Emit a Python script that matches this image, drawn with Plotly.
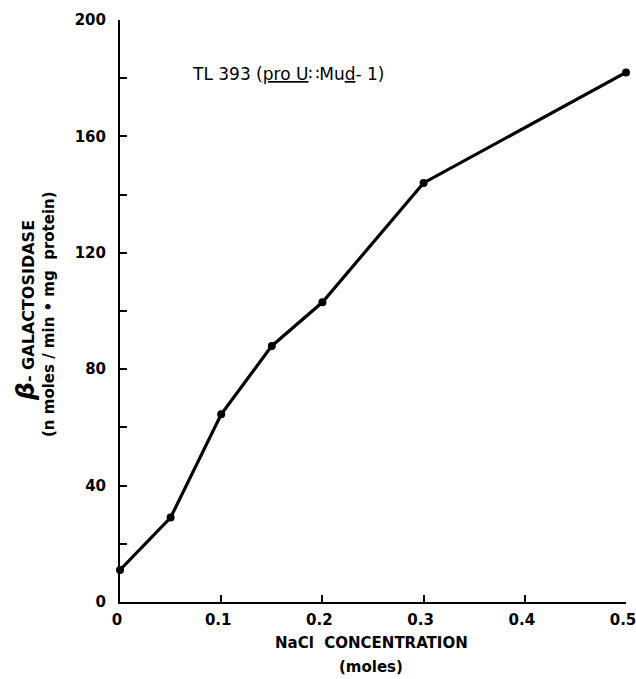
import plotly.graph_objects as go

# Data
nacl_moles = [0, 0.05, 0.1, 0.15, 0.2, 0.3, 0.5]
beta_gal = [11, 29, 64.5, 88, 103, 144, 182]

x_tick_vals = [0, 0.1, 0.2, 0.3, 0.4, 0.5]
x_tick_text = ["0", "0.1", "0.2", "0.3", "0.4", "0.5"]
y_tick_vals = [0, 40, 80, 120, 160, 200]
y_tick_text = ["0", "40", "80", "120", "160", "200"]
y_minor_vals = [20, 60, 100, 140, 180]

FONT = "DejaVu Sans"

# figure geometry (page body margin removed by post_script)
OFF = 0
W, H = 636, 679
ML, MR, MT, MB = 120, 10, 20, 77
PW, PH = W - ML - MR, H - MT - MB

fig = go.Figure()
fig.add_trace(go.Scatter(
    x=nacl_moles, y=beta_gal, mode="lines+markers",
    line=dict(color="black", width=3.2),
    marker=dict(color="black", size=8),
    cliponaxis=False, showlegend=False,
))

fig.update_layout(
    width=W, height=H,
    margin=dict(l=ML, r=MR, t=MT, b=MB, autoexpand=False),
    paper_bgcolor="white", plot_bgcolor="white",
    font=dict(family=FONT, color="black", size=14),
    xaxis=dict(
        range=[0, 0.5], tickvals=x_tick_vals, ticktext=x_tick_text,
        showgrid=False, zeroline=False, showline=True, linecolor="black", linewidth=2,
        ticks="inside", ticklen=7, tickwidth=2, tickcolor="black",
        tickfont=dict(family=FONT, size=15, weight="bold"),
        ticklabelstandoff=3, ticklabelshift=-3,
        ticklabeloverflow="allow", automargin=False,
    ),
    yaxis=dict(
        range=[0, 200], tickvals=y_tick_vals, ticktext=y_tick_text,
        showgrid=False, zeroline=False, showline=True, linecolor="black", linewidth=2,
        ticks="inside", ticklen=7, tickwidth=2, tickcolor="black",
        tickfont=dict(family=FONT, size=15, weight="bold"),
        ticklabelstandoff=9, automargin=False,
        minor=dict(tickvals=y_minor_vals, ticks="inside", ticklen=7,
                   tickwidth=2, tickcolor="black", showgrid=False),
    ),
)

# annotations placed by page pixel position (centre)
annotations = [
    dict(text="TL 393 (<u>pro U</u>∷Mu<u>d</u>- 1)", x=288, y=74,
         font=dict(size=17)),
    dict(text="<b>NaCl  CONCENTRATION</b>", x=371, y=643, font=dict(size=15)),
    dict(text="<b>(moles)</b>", x=371, y=667, font=dict(size=15)),
    dict(text="<b><span style='font-size:25px'><i>β</i></span>- GALACTOSIDASE</b>",
         x=25, y=311, textangle=-90, font=dict(size=16)),
    dict(text="<b>(n moles / min • mg  protein)</b>", x=49, y=314, textangle=-90,
         font=dict(size=15)),
]
for a in annotations:
    fx = a["x"] - OFF
    fy = a["y"] - OFF
    fig.add_annotation(
        text=a["text"], x=(fx - ML) / PW, y=(H - MB - fy) / PH,
        xref="paper", yref="paper", showarrow=False,
        xanchor="center", yanchor="middle",
        textangle=a.get("textangle", 0), font=a["font"],
    )

post = (
    "document.body.style.margin='0';"
    "document.body.style.padding='0';"
    "document.body.style.overflow='hidden';"
    "document.documentElement.style.overflow='hidden';"
)
fig.write_html("out.html", post_script=post, config={"displayModeBar": False})
